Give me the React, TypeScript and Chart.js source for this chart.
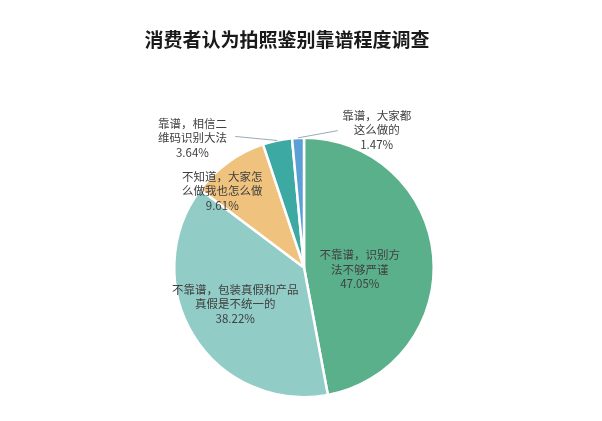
import React, { useEffect, useRef } from "react";
import { Chart, registerables } from "chart.js";

Chart.register(...registerables);

const titleText = "消费者认为拍照鉴别靠谱程度调查";
const categories = [
  "不靠谱，识别方法不够严谨",
  "不靠谱，包装真假和产品真假是不统一的",
  "不知道，大家怎么做我也怎么做",
  "靠谱，相信二维码识别大法",
  "靠谱，大家都这么做的",
];
const values = [47.05, 38.22, 9.61, 3.64, 1.47];
const labelLines = [
  ["不靠谱，识别方", "法不够严谨"],
  ["不靠谱，包装真假和产品", "真假是不统一的"],
  ["不知道，大家怎", "么做我也怎么做"],
  ["靠谱，相信二", "维码识别大法"],
  ["靠谱，大家都", "这么做的"],
];
const colors = ["#5bb08c", "#91ccc6", "#efc27d", "#3caaa3", "#5b9fd5"];

// label placement relative to pie center, in units of radius (style only)
const labelPlace = [
  { x: 0.43, y: 0.015, leader: null },
  { x: -0.53, y: 0.28, leader: null },
  { x: -0.63, y: -0.59, leader: null },
  { x: -0.86, y: -1.0, leader: { x: -0.53, y: -1.01 } },
  { x: 0.56, y: -1.06, leader: { x: 0.26, y: -1.055 } },
];

const labelPlugin = {
  id: "sliceLabels",
  afterDraw(chart: any) {
    const ctx = chart.ctx;
    const meta = chart.getDatasetMeta(0);
    const total = values.reduce((a, b) => a + b, 0);
    ctx.save();
    ctx.font = 'bold 19px "Noto Sans CJK SC", sans-serif';
    ctx.fillStyle = "#1a1a1a";
    ctx.textAlign = "center";
    ctx.textBaseline = "middle";
    ctx.fillText(titleText, 287, 40);

    ctx.font = '11.5px "Noto Sans CJK SC", "Noto Sans", sans-serif';
    ctx.fillStyle = "#404040";
    meta.data.forEach((arc: any, i: number) => {
      const { x, y, outerRadius, startAngle, endAngle } = arc.getProps(
        ["x", "y", "outerRadius", "startAngle", "endAngle"],
        true
      );
      const p = labelPlace[i];
      const cx = x + p.x * outerRadius;
      const cy = y + p.y * outerRadius;
      const pct = ((values[i] / total) * 100).toFixed(2) + "%";
      const lines = [...labelLines[i], pct];
      const lh = 14.5;
      lines.forEach((t, k) => {
        ctx.fillText(t, cx, cy + (k - 1) * lh);
      });
      if (p.leader) {
        const mid = (startAngle + endAngle) / 2;
        const sx = x + Math.cos(mid) * outerRadius;
        const sy = y + Math.sin(mid) * outerRadius;
        ctx.beginPath();
        ctx.strokeStyle = "#9aa9b8";
        ctx.lineWidth = 1;
        ctx.moveTo(sx, sy);
        ctx.lineTo(x + p.leader.x * outerRadius, y + p.leader.y * outerRadius);
        ctx.stroke();
      }
    });
    ctx.restore();
  },
};

export default function App() {
  const ref = useRef<HTMLCanvasElement | null>(null);
  useEffect(() => {
    if (!ref.current) return;
    const chart = new Chart(ref.current, {
      type: "pie",
      data: {
        labels: categories,
        datasets: [
          {
            data: values,
            backgroundColor: colors,
            borderColor: "#ffffff",
            borderWidth: 2.5,
          },
        ],
      },
      options: {
        responsive: false,
        animation: false,
        layout: { padding: { left: 173, right: 167, top: 135, bottom: 21 } },
        plugins: {
          legend: { display: false },
          tooltip: { enabled: false },
          title: { display: false },
        },
      },
      plugins: [labelPlugin],
    });
    return () => chart.destroy();
  }, []);
  return (
    <div style={{ position: "absolute", left: 0, top: 0, width: 602, height: 421, background: "#fff" }}>
      <canvas ref={ref} width={602} height={421} />
    </div>
  );
}
